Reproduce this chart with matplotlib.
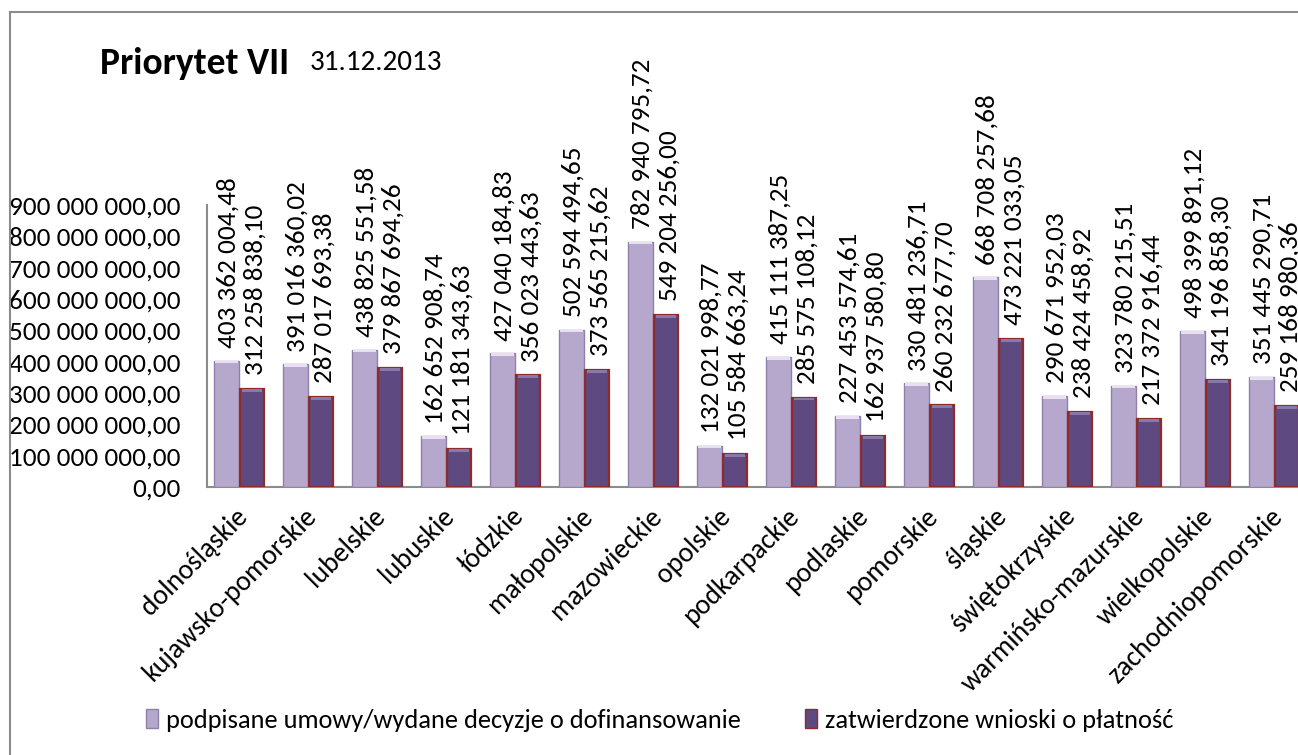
import matplotlib
matplotlib.use("Agg")
import matplotlib.pyplot as plt
from matplotlib import font_manager
from matplotlib.lines import Line2D
from matplotlib.patches import Patch
import numpy as np

categories = ["dolnośląskie", "kujawsko-pomorskie", "lubelskie", "lubuskie", "łódzkie",
              "małopolskie", "mazowieckie", "opolskie", "podkarpackie", "podlaskie",
              "pomorskie", "śląskie", "świętokrzyskie", "warmińsko-mazurskie",
              "wielkopolskie", "zachodniopomorskie"]
umowy = [403362004.48, 391016360.02, 438825551.58, 162652908.74, 427040184.83,
         502594494.65, 782940795.72, 132021998.77, 415111387.25, 227453574.61,
         330481236.71, 668708257.68, 290671952.03, 323780215.51, 498399891.12,
         351445290.71]
wnioski = [312258838.10, 287017693.38, 379867694.26, 121181343.63, 356023443.63,
           373565215.62, 549204256.00, 105584663.24, 285575108.12, 162937580.80,
           260232677.70, 473221033.05, 238424458.92, 217372916.44, 341196858.30,
           259168980.36]
series_names = ["podpisane umowy/wydane decyzje o dofinansowanie",
                "zatwierdzone wnioski o płatność"]
yticks = [0, 100e6, 200e6, 300e6, 400e6, 500e6, 600e6, 700e6, 800e6, 900e6]


def has_font(name):
    try:
        font_manager.findfont(font_manager.FontProperties(family=name), fallback_to_default=False)
        return True
    except Exception:
        return False

if has_font("Carlito"):
    MAIN = "Carlito"
    sz = dict(title=27, date=21, ytick=19.5, xtick=20, legend=19, label=19.5)
else:
    MAIN = "Lato" if has_font("Lato") else "DejaVu Sans"
    sz = dict(title=25, date=19, ytick=17.3, xtick=18.2, legend=17.9, label=17.3)


def fmt(v):
    s = f"{v:,.2f}"
    return s.replace(",", " ").replace(".", ",")

W, H = 1298, 755
fig = plt.figure(figsize=(W / 100, H / 100), dpi=100)

# axes in pixel coords: left 207, right 1311 (beyond fig), top 205, bottom 487
left, right, top, bottom = 207, 1311, 205, 487
ax = fig.add_axes([left / W, (H - bottom) / H, (right - left) / W, (bottom - top) / H])

x = np.arange(len(categories))
light_fc, light_ec = "#B6A7CC", "#8F80A9"
dark_fc, dark_ec = "#5E4A80", "#8E2B2B"
w1, w2 = 0.36, 0.35
off1, off2 = -0.217, 0.152
ax.bar(x + off1, umowy, width=w1, color=light_fc, edgecolor=light_ec, linewidth=1.0, zorder=3)
ax.bar(x + off2, wnioski, width=w2, color=dark_fc, edgecolor=dark_ec, linewidth=1.6, zorder=4)
# bevel highlights at the bar tops
cap = 9e6
ax.bar(x + off1, [cap] * len(umowy), bottom=[v - cap for v in umowy], width=w1 * 0.9,
       color="#E8E0F2", linewidth=0, zorder=5)
ax.bar(x + off2, [cap] * len(wnioski), bottom=[v - cap for v in wnioski], width=w2 * 0.85,
       color="#8A78A8", linewidth=0, zorder=5)

for xi, v in zip(x + off1, umowy):
    ax.annotate(fmt(v), (xi, v), xytext=(1, 9), textcoords="offset points",
                rotation=90, ha="center", va="bottom", fontsize=sz["label"],
                family=MAIN, color="black", annotation_clip=False)
for xi, v in zip(x + off2, wnioski):
    ax.annotate(fmt(v), (xi, v), xytext=(2, 10), textcoords="offset points",
                rotation=90, ha="center", va="bottom", fontsize=sz["label"],
                family=MAIN, color="black", annotation_clip=False)

ax.set_xlim(-0.5, len(categories) - 0.5)
ax.set_ylim(0, 900e6)
ax.set_yticks(yticks)
ax.set_yticklabels([fmt(v) for v in yticks], family=MAIN, fontsize=sz["ytick"])
ax.tick_params(axis="y", length=0, pad=19)
ax.set_xticks(x - 0.1)
ax.set_xticklabels(categories, rotation=45, ha="right", va="top", rotation_mode="anchor",
                   family=MAIN, fontsize=sz["xtick"])
ax.tick_params(axis="x", length=0, pad=12)
for s in ["top", "right"]:
    ax.spines[s].set_visible(False)
ax.spines["left"].set_color("#8C8C8C")
ax.spines["bottom"].set_color("#8C8C8C")
ax.spines["left"].set_linewidth(1.5)
ax.spines["bottom"].set_linewidth(1.5)
ax.set_facecolor("none")

# title
fig.text(100 / W, 1 - 64 / H, "Priorytet VII", family=MAIN, fontsize=sz["title"], fontweight="bold",
         ha="left", va="center")
fig.text(310 / W, 1 - 63 / H, "31.12.2013", family=MAIN, fontsize=sz["date"], ha="left", va="center")

# legend
handles = [Patch(facecolor=light_fc, edgecolor=light_ec), Patch(facecolor=dark_fc, edgecolor=dark_ec)]
common = dict(frameon=False, prop={"family": MAIN, "size": sz["legend"]}, handlelength=0.45,
              handleheight=0.75, handletextpad=0.3, borderaxespad=0, borderpad=0)
fig.legend(handles[:1], series_names[:1], loc="center left", bbox_to_anchor=(146 / W, 1 - 720 / H), **common)
fig.legend(handles[1:], series_names[1:], loc="center left", bbox_to_anchor=(805 / W, 1 - 720 / H), **common)

# outer chart frame
fig.add_artist(Line2D([10 / W, 10 / W], [0, 1 - 12 / H], color="#8C8C8C", lw=1.5, transform=fig.transFigure))
fig.add_artist(Line2D([10 / W, 1], [1 - 12 / H, 1 - 12 / H], color="#8C8C8C", lw=1.5, transform=fig.transFigure))

fig.savefig("out.png", dpi=100)
